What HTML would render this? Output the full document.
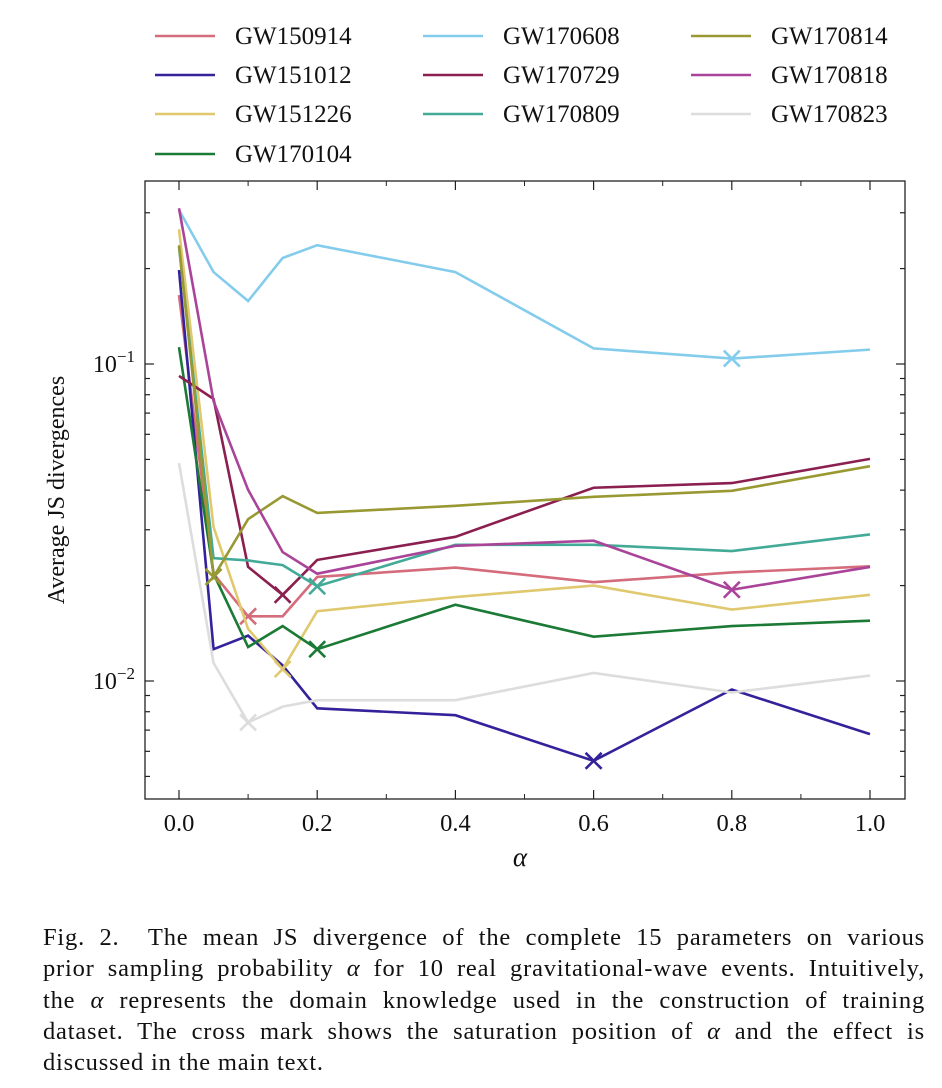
<!DOCTYPE html>
<html><head><meta charset="utf-8"><style>
body{margin:0;background:#fff;width:942px;height:1088px;overflow:hidden;font-family:"Liberation Serif",serif}
#cap{position:absolute;left:43px;top:922px;width:882px;font-size:24.5px;line-height:31.3px;color:#111;letter-spacing:0.8px}
#cap div{text-align:justify;text-align-last:justify;white-space:nowrap}
#cap div.last{text-align-last:left}
</style></head><body>
<svg id="chart" width="942" height="910" style="position:absolute;left:0;top:0" font-family="Liberation Serif, serif"></svg>
<div id="cap">
<div>Fig. 2.&nbsp; The mean JS divergence of the complete 15 parameters on various</div>
<div>prior sampling probability <i>α</i> for 10 real gravitational-wave events. Intuitively,</div>
<div>the <i>α</i> represents the domain knowledge used in the construction of training</div>
<div>dataset. The cross mark shows the saturation position of <i>α</i> and the effect is</div>
<div class="last">discussed in the main text.</div>
</div>
<script>
const alphas=[0,0.05,0.1,0.15,0.2,0.4,0.6,0.8,1.0];
const names=["GW150914","GW151012","GW151226","GW170104","GW170608","GW170729","GW170809","GW170814","GW170818","GW170823"];
const colors=["#d46c7c","#33229a","#dfc86e","#1b7a35","#84ccec","#8a1f50","#43aa98","#999933","#aa4499","#dddddd"];
const s150914=[0.165,0.0218,0.016,0.016,0.0213,0.0228,0.0205,0.022,0.023];
const s151012=[0.198,0.0126,0.0139,0.0112,0.0082,0.0078,0.0056,0.0094,0.0068];
const s151226=[0.266,0.0306,0.0146,0.0109,0.0166,0.0184,0.0200,0.0168,0.0187];
const s170104=[0.113,0.0218,0.0128,0.0149,0.0126,0.0174,0.0138,0.0149,0.0155];
const s170608=[0.306,0.195,0.158,0.216,0.237,0.195,0.112,0.104,0.111];
const s170729=[0.0917,0.0776,0.0229,0.0187,0.0241,0.0285,0.0407,0.0421,0.0502];
const s170809=[0.234,0.0244,0.024,0.0232,0.0199,0.0269,0.0269,0.0257,0.029];
const s170814=[0.237,0.0213,0.0324,0.0383,0.0339,0.0357,0.0381,0.0398,0.0476];
const s170818=[0.31,0.0764,0.0401,0.0255,0.0218,0.0267,0.0277,0.0194,0.0229];
const s170823=[0.0487,0.0114,0.0074,0.0083,0.0087,0.0087,0.0106,0.0092,0.0104];
const series=[s150914,s151012,s151226,s170104,s170608,s170729,s170809,s170814,s170818,s170823];
const crossIdx=[2,6,3,4,7,3,4,1,7,2];
const xTicks=[0,0.2,0.4,0.6,0.8,1.0];
const xTickLabels=["0.0","0.2","0.4","0.6","0.8","1.0"];

const L=145,R=905,T=181,B=799;
const X=v=>179+v*691;
const Y=v=>364-317*Math.log10(v/0.1);
const svg=document.getElementById('chart');
const NS="http://www.w3.org/2000/svg";
function mk(tag,attrs,parent){const e=document.createElementNS(NS,tag);for(const k in attrs)e.setAttribute(k,attrs[k]);(parent||svg).appendChild(e);return e;}

series.forEach((s,i)=>{
  const g=mk('g',{});
  
  
  mk('polyline',{points:s.map((v,j)=>X(alphas[j])+','+Y(v)).join(' '),fill:'none',stroke:colors[i],'stroke-width':2.6},g);
  const cx=X(alphas[crossIdx[i]]),cy=Y(s[crossIdx[i]]),d=8;
  const c=mk('path',{d:`M${cx-d},${cy-d}L${cx+d},${cy+d}M${cx-d},${cy+d}L${cx+d},${cy-d}`,stroke:colors[i],'stroke-width':2.6},g);
  
  
});
const fr=mk('rect',{x:L,y:T,width:R-L,height:B-T,fill:'none',stroke:'#222','stroke-width':1.3});


xTicks.forEach((t,i)=>{
  const x=X(t);
  mk('line',{x1:x,x2:x,y1:B,y2:B-9,stroke:'#222','stroke-width':1.2});
  mk('line',{x1:x,x2:x,y1:T,y2:T+9,stroke:'#222','stroke-width':1.2});
  const tx=mk('text',{x:x,y:B+32,'font-size':24.5,'text-anchor':'middle',fill:'#111'});
  tx.textContent=xTickLabels[i];
  
  
});
for(let t=0.1;t<1;t+=0.2){const x=X(t);mk('line',{x1:x,x2:x,y1:B,y2:B-5,stroke:'#222'});mk('line',{x1:x,x2:x,y1:T,y2:T+5,stroke:'#222'});}
[0.001,0.01,0.1].forEach(dec=>{
  for(let m=1;m<10;m++){
    const v=dec*m,y=Y(v);
    if(y<T||y>B)continue;
    const len=m==1?9:5;
    mk('line',{x1:L,x2:L+len,y1:y,y2:y,stroke:'#222','stroke-width':1.2});
    mk('line',{x1:R,x2:R-len,y1:y,y2:y,stroke:'#222','stroke-width':1.2});
    if(m==1){
      const tx=mk('text',{x:L-10,y:y+8,'font-size':24,'text-anchor':'end',fill:'#111'});
      
      
      tx.innerHTML='10<tspan dy="-10" font-size="17">−'+Math.abs(Math.round(Math.log10(v)))+'</tspan>';
    }
  }
});
const yl=mk('text',{x:0,y:0,'font-size':24,'text-anchor':'middle',fill:'#111',transform:'translate(64,490) rotate(-90)'});
yl.textContent='Average JS divergences';


const xl=mk('text',{x:520,y:866,'font-size':27,'font-style':'italic','text-anchor':'middle',fill:'#111'});
xl.textContent='α';


const colX=[155,423,691],rowY=[36,75,114,154];
const order=[[0,0],[1,0],[2,0],[3,0],[0,1],[1,1],[2,1],[0,2],[1,2],[2,2]];
names.forEach((n,i)=>{
  const [r,c]=order[i];
  const g=mk('g',{});
  
  
  mk('line',{x1:colX[c],x2:colX[c]+60,y1:rowY[r],y2:rowY[r],stroke:colors[i],'stroke-width':2.6},g);
  const t=mk('text',{x:colX[c]+80,y:rowY[r]+8,'font-size':25,fill:'#111'},g);
  t.textContent=n;
});
</script>
</body></html>
